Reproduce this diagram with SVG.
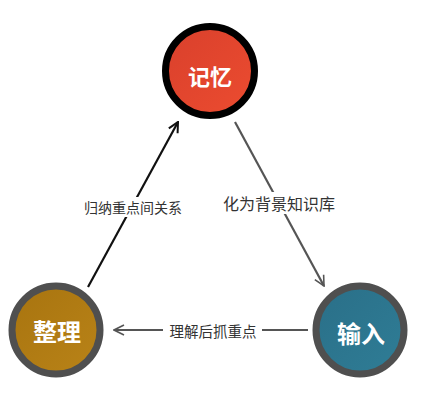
<svg xmlns="http://www.w3.org/2000/svg" width="432" height="400" viewBox="0 0 432 400">
<defs>
<style>
.node-label{font-family:"Noto Sans CJK SC","Liberation Sans",sans-serif;font-weight:bold;fill:#ffffff;text-anchor:middle;dominant-baseline:central}
.edge-label{font-family:"Noto Sans CJK SC","Liberation Sans",sans-serif;fill:#333333;text-anchor:middle;dominant-baseline:central}
.edge{fill:none;stroke-width:2.2}
</style>
<linearGradient id="gRed" x1="0" y1="0" x2="1" y2="1">
<stop offset="0" stop-color="#d9402c"/><stop offset="1" stop-color="#ec4c30"/>
</linearGradient>
<linearGradient id="gGold" x1="0" y1="0" x2="1" y2="1">
<stop offset="0" stop-color="#a8740f"/><stop offset="1" stop-color="#b98318"/>
</linearGradient>
<linearGradient id="gTeal" x1="0" y1="0" x2="1" y2="1">
<stop offset="0" stop-color="#2a6f88"/><stop offset="1" stop-color="#2f7d96"/>
</linearGradient>
<marker id="arrBlack" viewBox="0 0 12 12" refX="11" refY="6" markerWidth="12" markerHeight="12" markerUnits="userSpaceOnUse" orient="auto">
<path d="M1,1 L11,6 L1,11" fill="none" stroke="#111111" stroke-width="2"/>
</marker>
<marker id="arrGray" viewBox="0 0 12 12" refX="11" refY="6" markerWidth="12" markerHeight="12" markerUnits="userSpaceOnUse" orient="auto">
<path d="M1,1 L11,6 L1,11" fill="none" stroke="#555555" stroke-width="1.6"/>
</marker>
</defs>
<rect width="432" height="400" fill="#ffffff"/>
<g id="connectors">
<line class="edge" x1="88" y1="287" x2="178" y2="122" stroke="#111111" marker-end="url(#arrBlack)"/>
<rect x="80" y="197" width="106" height="20" fill="#ffffff"/>
<text class="edge-label" x="133" y="207" font-size="14">归纳重点间关系</text>
<line class="edge" x1="235" y1="122" x2="324" y2="286" stroke="#555555" marker-end="url(#arrGray)"/>
<rect x="218" y="192" width="122" height="22" fill="#ffffff"/>
<text class="edge-label" x="279" y="203" font-size="16">化为背景知识库</text>
<line class="edge" x1="308" y1="330" x2="262" y2="330" stroke="#555555"/>
<line class="edge" x1="163" y1="330" x2="114" y2="330" stroke="#555555" marker-end="url(#arrGray)"/>
<text class="edge-label" x="213" y="330" font-size="14.5">理解后抓重点</text>
</g>
<g id="node-memory">
<circle cx="210" cy="71" r="44.5" fill="url(#gRed)" stroke="#000000" stroke-width="7"/>
<text class="node-label" x="210" y="75" font-size="22">记忆</text>
</g>
<g id="node-organize">
<circle cx="56" cy="330" r="44" fill="url(#gGold)" stroke="#4f4f4f" stroke-width="7"/>
<text class="node-label" x="57" y="330" font-size="24">整理</text>
</g>
<g id="node-input">
<circle cx="360" cy="330" r="44" fill="url(#gTeal)" stroke="#4f4f4f" stroke-width="7"/>
<text class="node-label" x="361" y="332" font-size="24">输入</text>
</g>
</svg>
